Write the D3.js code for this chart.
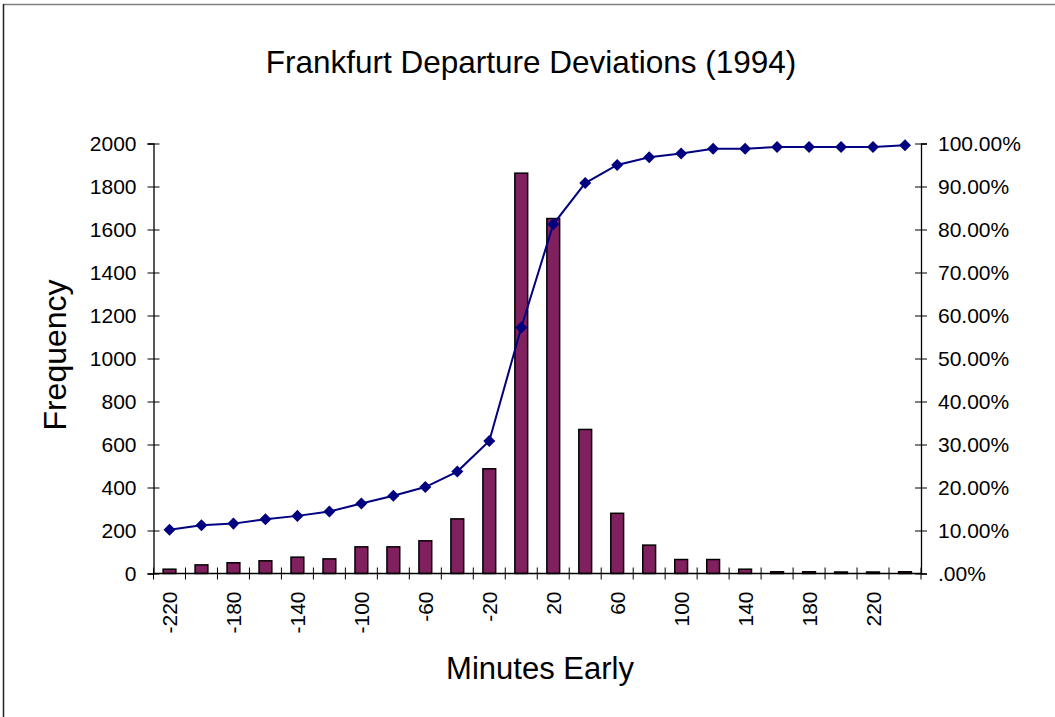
<!DOCTYPE html>
<html>
<head>
<meta charset="utf-8">
<script src="https://cdn.jsdelivr.net/npm/d3@7"></script>
<style>
  html, body { margin: 0; padding: 0; background: #fff; }
  svg { display: block; font-family: "Liberation Sans", Arial, sans-serif; }
</style>
</head>
<body>
<svg id="chart" width="1055" height="717"></svg>
<script>
// ---- data ----
const categories = [-220,-200,-180,-160,-140,-120,-100,-80,-60,-40,-20,0,20,40,60,80,100,120,140,160,180,200,220,240];
const frequency  = [20,40,50,59,76,68,124,124,152,254,487,1862,1651,670,280,132,65,65,20,8,8,7,7,8];
const cumulativePct = [10.2,11.2,11.6,12.6,13.4,14.4,16.3,18.1,20.1,23.7,30.8,57.2,81.2,90.8,95.0,96.8,97.7,98.8,98.8,99.2,99.2,99.2,99.2,99.6];
const xTickLabels = ["-220","-180","-140","-100","-60","-20","20","60","100","140","180","220"];
const leftTicks = [0,200,400,600,800,1000,1200,1400,1600,1800,2000];
const rightTicks = [0,10,20,30,40,50,60,70,80,90,100];
const rightTickLabels = [".00%","10.00%","20.00%","30.00%","40.00%","50.00%","60.00%","70.00%","80.00%","90.00%","100.00%"];
const titleText = "Frankfurt Departure Deviations (1994)";
const xTitle = "Minutes Early";
const yTitle = "Frequency";

// ---- layout ----
const svg = d3.select("#chart");
const plot = { left: 153.5, right: 921, top: 143.5, bottom: 573.5 };
const FONT = "Liberation Sans, Arial, sans-serif";

const x = d3.scaleBand().domain(categories).range([plot.left, plot.right])
  .paddingInner(0.6).paddingOuter(0.3);
const yL = d3.scaleLinear().domain([0, 2000]).range([plot.bottom, plot.top]);
const yR = d3.scaleLinear().domain([0, 100]).range([plot.bottom, plot.top]);

// border
svg.append("line").attr("x1", 3).attr("x2", 1055).attr("y1", 4.5).attr("y2", 4.5)
  .attr("stroke", "#808080").attr("stroke-width", 1.5);
svg.append("line").attr("x1", 3.5).attr("x2", 3.5).attr("y1", 4).attr("y2", 717)
  .attr("stroke", "#222").attr("stroke-width", 1.5);

// title
svg.append("text").attr("x", 531).attr("y", 73).attr("text-anchor", "middle")
  .attr("font-size", 31.5).attr("fill", "#000").text(titleText);

// bars
svg.append("g").selectAll("rect").data(categories).join("rect")
  .attr("x", (d) => x(d))
  .attr("y", (d, i) => yL(frequency[i]))
  .attr("width", x.bandwidth())
  .attr("height", (d, i) => plot.bottom - yL(frequency[i]))
  .attr("fill", "#80205f").attr("stroke", "#000").attr("stroke-width", 1.5);

// left axis
const axL = svg.append("g").attr("transform", `translate(${plot.left},0)`)
  .call(d3.axisLeft(yL).tickValues(leftTicks).tickFormat(d3.format("d")).tickSize(6).tickPadding(11));
axL.attr("font-size", 21).attr("font-family", FONT);
axL.select(".domain").attr("stroke", "#000").attr("stroke-width", 1.3);
axL.selectAll(".tick line").attr("x1", 6).attr("stroke", "#000");
axL.selectAll(".tick text").attr("fill", "#000");

// right axis
const axR = svg.append("g").attr("transform", `translate(${plot.right},0)`)
  .call(d3.axisRight(yR).tickValues(rightTicks).tickFormat((d, i) => rightTickLabels[i]).tickSize(6).tickPadding(11));
axR.attr("font-size", 21).attr("font-family", FONT);
axR.select(".domain").attr("stroke", "#000").attr("stroke-width", 1.3);
axR.selectAll(".tick line").attr("x1", -6).attr("stroke", "#000");
axR.selectAll(".tick text").attr("fill", "#000");

// x axis
const gx = svg.append("g");
gx.append("line").attr("x1", plot.left).attr("x2", plot.right)
  .attr("y1", plot.bottom).attr("y2", plot.bottom).attr("stroke", "#000").attr("stroke-width", 1.3);
const boundaries = categories.map((c) => x(c) + x.bandwidth() / 2 - x.step() / 2)
  .concat([x(categories[categories.length - 1]) + x.bandwidth() / 2 + x.step() / 2]);
gx.selectAll("line.tk").data(boundaries).join("line").attr("class", "tk")
  .attr("x1", (d) => d).attr("x2", (d) => d)
  .attr("y1", plot.bottom - 6).attr("y2", plot.bottom + 6).attr("stroke", "#000");
gx.selectAll("text").data(xTickLabels).join("text")
  .attr("transform", (d) => `translate(${x(+d) + x.bandwidth() / 2 + 7.5},${plot.bottom + 18}) rotate(-90)`)
  .attr("text-anchor", "end").attr("font-size", 21).attr("fill", "#000").text((d) => d);

// cumulative line
const line = d3.line()
  .x((d, i) => x(categories[i]) + x.bandwidth() / 2)
  .y((d) => yR(d));
svg.append("path").datum(cumulativePct).attr("d", line)
  .attr("fill", "none").attr("stroke", "#000080").attr("stroke-width", 2);
const diamond = d3.symbol().type(d3.symbolDiamond2).size(92);
svg.append("g").selectAll("path").data(cumulativePct).join("path")
  .attr("transform", (d, i) => `translate(${x(categories[i]) + x.bandwidth() / 2},${yR(d)})`)
  .attr("d", diamond).attr("fill", "#000080");

// axis titles
svg.append("text").attr("x", 540).attr("y", 679).attr("text-anchor", "middle")
  .attr("font-size", 31).attr("fill", "#000").text(xTitle);
svg.append("text").attr("transform", "translate(66,355) rotate(-90)").attr("text-anchor", "middle")
  .attr("font-size", 32).attr("fill", "#000").text(yTitle);
</script>
</body>
</html>
